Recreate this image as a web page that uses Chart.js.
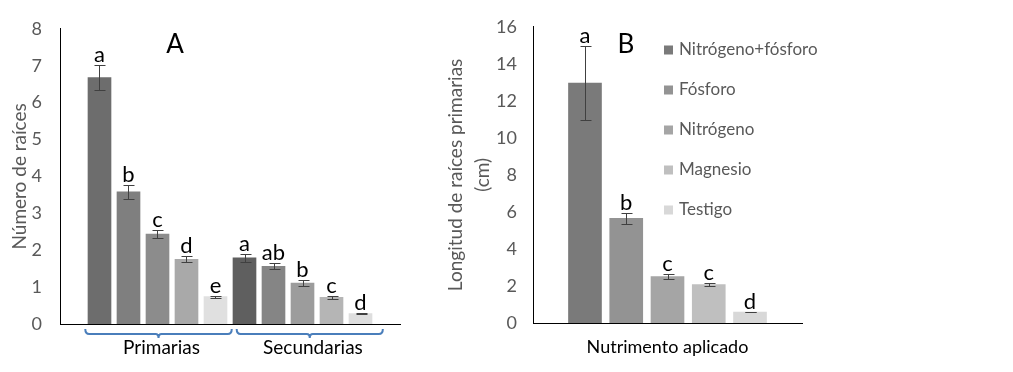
<!DOCTYPE html>
<html lang="es">
<head>
<meta charset="utf-8">
<title>Raíces</title>
<script src="https://cdn.jsdelivr.net/npm/chart.js@4.4.1/dist/chart.umd.min.js"></script>
<style>
  html, body { margin: 0; padding: 0; background: #fff; }
  #wrap { position: relative; width: 1013px; height: 372px; overflow: hidden; }
  .box { position: absolute; top: 0; height: 372px; }
  #boxA { left: 0; width: 430px; }
  #boxB { left: 430px; width: 583px; }
</style>
</head>
<body>
<div id="wrap">
  <div class="box" id="boxA"><canvas id="chartA"></canvas></div>
  <div class="box" id="boxB"><canvas id="chartB"></canvas></div>
</div>
<script>
// Panel A: número de raíces
const grupos = ['Primarias', 'Secundarias'];
const primariasMedia = [6.68, 3.58, 2.44, 1.75, 0.74];
const primariasError = [0.34, 0.18, 0.12, 0.08, 0.03];
const primariasLetras = ['a', 'b', 'c', 'd', 'e'];
const secundariasMedia = [1.79, 1.56, 1.11, 0.72, 0.28];
const secundariasError = [0.10, 0.08, 0.07, 0.04, 0.01];
const secundariasLetras = ['a', 'ab', 'b', 'c', 'd'];
const ticksA = [0, 1, 2, 3, 4, 5, 6, 7, 8];

// Panel B: longitud de raíces primarias
const nutrimentos = ['Nitrógeno+fósforo', 'Fósforo', 'Nitrógeno', 'Magnesio', 'Testigo'];
const longitudMedia = [12.96, 5.65, 2.51, 2.08, 0.59];
const longitudError = [2.0, 0.30, 0.13, 0.09, 0.02];
const longitudLetras = ['a', 'b', 'c', 'c', 'd'];
const ticksB = [0, 2, 4, 6, 8, 10, 12, 14, 16];

const coloresPrimarias = ['#6d6d6d', '#7f7f7f', '#8c8c8c', '#a9a9a9', '#e0e0e0'];
const coloresSecundarias = ['#5f5f5f', '#858585', '#9c9c9c', '#b5b5b5', '#dedede'];
const coloresB = ['#7a7a7a', '#939393', '#a5a5a5', '#bfbfbf', '#d8d8d8'];

Chart.defaults.font.family = 'Lato, "Open Sans", sans-serif';
Chart.defaults.color = '#595959';

// barras de error y letras de significancia
const barrasError = {
    id: 'barrasError',
    afterDatasetsDraw(chart, args, opts) {
        const ctx = chart.ctx;
        const y = chart.scales.y;
        const meta = chart.getDatasetMeta(0);
        ctx.save();
        meta.data.forEach((bar, i) => {
            const v = opts.medias[i], e = opts.errores[i];
            const yTop = Math.round(y.getPixelForValue(v + e)) + 0.5;
            const yBot = Math.round(y.getPixelForValue(v - e)) + 0.5;
            const x = Math.round(bar.x) + 0.5;
            ctx.strokeStyle = '#404040';
            ctx.lineWidth = 1;
            ctx.beginPath();
            ctx.moveTo(x, yTop); ctx.lineTo(x, yBot);
            ctx.moveTo(x - 5, yTop); ctx.lineTo(x + 6, yTop);
            ctx.moveTo(x - 5, yBot); ctx.lineTo(x + 6, yBot);
            ctx.stroke();
            ctx.fillStyle = '#000';
            ctx.font = '22px Lato';
            ctx.textAlign = 'center';
            ctx.textBaseline = 'alphabetic';
            ctx.fillText(opts.letras[i], bar.x, yTop - 4);
        });
        ctx.restore();
    }
};

const letraPanel = {
    id: 'letraPanel',
    afterDraw(chart, args, opts) {
        const ctx = chart.ctx;
        ctx.save();
        ctx.fillStyle = '#000';
        ctx.font = '26px Lato';
        ctx.textAlign = 'center';
        ctx.textBaseline = 'middle';
        ctx.fillText(opts.texto, opts.x, opts.y);
        ctx.restore();
    }
};

// llaves azules bajo el eje de A
const llaves = {
    id: 'llaves',
    afterDraw(chart, args, opts) {
        const ctx = chart.ctx;
        const xs = chart.scales.x;
        const base = chart.chartArea.bottom;
        ctx.save();
        opts.rangos.forEach((r, k) => {
            const l = xs.getPixelForValue(r[0]);
            const d = xs.getPixelForValue(r[1]);
            const c = (l + d) / 2;
            const yl = base + 10;
            ctx.strokeStyle = '#4a7ebb';
            ctx.lineWidth = 2;
            ctx.beginPath();
            ctx.moveTo(l, base + 5);
            ctx.quadraticCurveTo(l, yl, l + 4, yl);
            ctx.lineTo(c - 3, yl);
            ctx.quadraticCurveTo(c, yl, c, yl + 4);
            ctx.quadraticCurveTo(c, yl, c + 3, yl);
            ctx.lineTo(d - 4, yl);
            ctx.quadraticCurveTo(d, yl, d, base + 5);
            ctx.stroke();
            ctx.fillStyle = '#000';
            ctx.font = '19px Lato';
            ctx.textAlign = 'center';
            ctx.textBaseline = 'alphabetic';
            ctx.fillText(opts.etiquetas[k], xs.getPixelForValue(opts.centros[k]), base + 30);
        });
        ctx.restore();
    }
};

const leyenda = {
    id: 'leyenda',
    afterDraw(chart, args, opts) {
        const ctx = chart.ctx;
        ctx.save();
        ctx.font = '17px Lato';
        ctx.textBaseline = 'middle';
        ctx.textAlign = 'left';
        opts.etiquetas.forEach((t, i) => {
            const y = opts.y + i * opts.paso;
            ctx.fillStyle = opts.colores[i];
            ctx.fillRect(opts.x, y - 4.5, 9, 9);
            ctx.fillStyle = '#595959';
            ctx.fillText(t, opts.x + 15, y);
        });
        ctx.restore();
    }
};

const mediasA = primariasMedia.concat(secundariasMedia);
const erroresA = primariasError.concat(secundariasError);
const letrasA = primariasLetras.concat(secundariasLetras);

new Chart(document.getElementById('chartA'), {
    type: 'bar',
    data: {
        datasets: [{
            data: mediasA.map((v, i) => ({ x: i + 1, y: v })),
            backgroundColor: coloresPrimarias.concat(coloresSecundarias),
            barThickness: 23
        }]
    },
    options: {
        responsive: true,
        maintainAspectRatio: false,
        animation: false,
        layout: { padding: { top: 22, right: 30, bottom: 0, left: 0 } },
        scales: {
            x: {
                type: 'linear',
                offset: false,
                min: -0.362,
                max: 11.362,
                grid: { display: false, drawTicks: false },
                border: { color: '#000', width: 1 },
                ticks: { display: false },
                afterFit: s => { s.height = 48; }
            },
            y: {
                min: 0,
                max: 8,
                afterBuildTicks: s => { s.ticks = ticksA.map(v => ({ value: v })); },
                ticks: { color: '#595959', font: { size: 18 }, padding: 18 },
                grid: { display: false, drawTicks: false },
                border: { color: '#000', width: 1 },
                title: { display: true, text: 'Número de raíces', color: '#595959', font: { size: 19 }, padding: { top: 8 } },
                afterFit: s => { s.width = 60; }
            }
        },
        plugins: {
            legend: { display: false },
            tooltip: { enabled: false },
            barrasError: { medias: mediasA, errores: erroresA, letras: letrasA },
            letraPanel: { texto: 'A', x: 175, y: 45 },
            llaves: { rangos: [[0.51, 5.56], [5.73, 10.77]], centros: [3.14, 8.36], etiquetas: grupos }
        }
    },
    plugins: [barrasError, letraPanel, llaves]
});

new Chart(document.getElementById('chartB'), {
    type: 'bar',
    data: {
        datasets: [{
            data: longitudMedia.map((v, i) => ({ x: i + 1, y: v })),
            backgroundColor: coloresB,
            barThickness: 33
        }]
    },
    options: {
        responsive: true,
        maintainAspectRatio: false,
        animation: false,
        layout: { padding: { top: 23, right: 211, bottom: 0, left: 0 } },
        scales: {
            x: {
                type: 'linear',
                offset: false,
                min: -0.26,
                max: 6.26,
                grid: { display: false, drawTicks: false },
                border: { color: '#000', width: 1 },
                ticks: { display: false },
                title: { display: true, text: 'Nutrimento aplicado', color: '#000', font: { size: 18 }, padding: { bottom: 14 } },
                afterFit: s => { s.height = 49; }
            },
            y: {
                min: 0,
                max: 16,
                afterBuildTicks: s => { s.ticks = ticksB.map(v => ({ value: v })); },
                ticks: { color: '#595959', font: { size: 18 }, padding: 16 },
                grid: { display: false, drawTicks: false },
                border: { color: '#000', width: 1 },
                title: {
                    display: true,
                    text: ['Longitud de raíces primarias', '(cm)'],
                    color: '#595959',
                    font: { size: 19, lineHeight: 1.45 },
                    padding: { top: 12 }
                },
                afterFit: s => { s.width = 103; }
            }
        },
        plugins: {
            legend: { display: false },
            tooltip: { enabled: false },
            barrasError: { medias: longitudMedia, errores: longitudError, letras: longitudLetras },
            letraPanel: { texto: 'B', x: 196, y: 45 },
            leyenda: { etiquetas: nutrimentos, colores: coloresB, x: 234, y: 50, paso: 40 }
        }
    },
    plugins: [barrasError, letraPanel, leyenda]
});
</script>
</body>
</html>
